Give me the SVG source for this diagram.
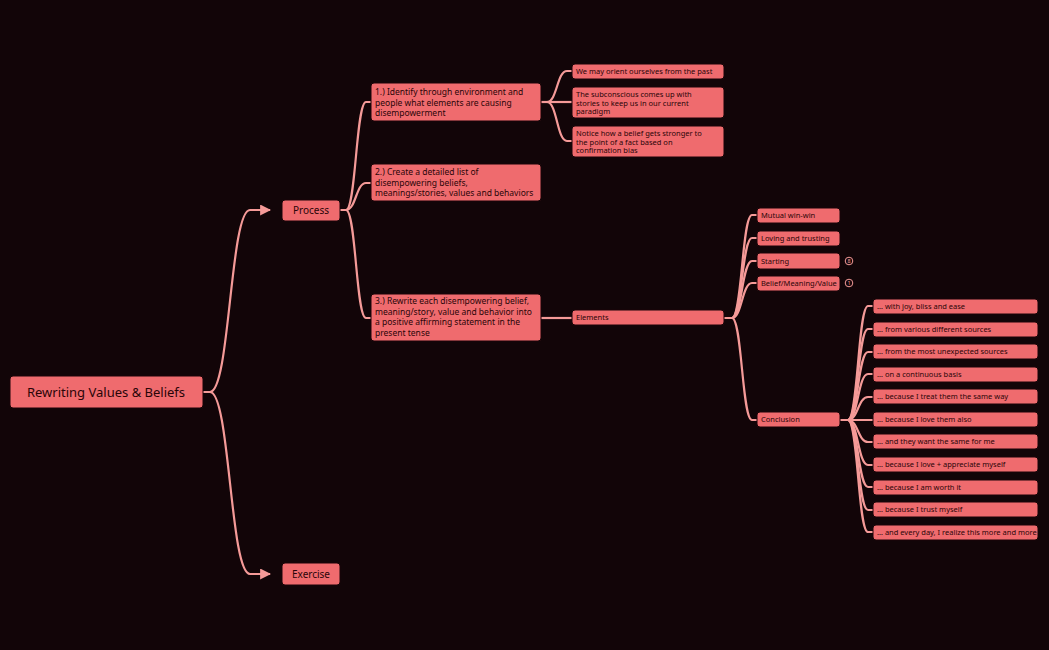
<svg xmlns="http://www.w3.org/2000/svg" width="1049" height="650" viewBox="0 0 1049 650">
<style>
.b{fill:#ef6b6e;stroke:#1a0508;stroke-width:1}
.t{font-family:"Noto Sans","Liberation Sans",sans-serif;fill:#2a0508}
.s{font-size:7.5px}.m{font-size:8.5px}.l{font-size:10px}
.c{fill:none;stroke:#f59a98;stroke-width:2.2}
</style>
<defs><marker id="a" viewBox="0 0 10 10" refX="9" refY="5" markerWidth="5" markerHeight="5" orient="auto"><path d="M0,0L10,5L0,10z" fill="#f59a98"/></marker></defs>
<rect width="1049" height="650" fill="#120508"/>
<g id="connectors">
<path class="c" d="M203,392 H210 C230,392 230,210 250,210 H270" marker-end="url(#a)"/>
<path class="c" d="M203,392 H210 C230,392 230,574 250,574 H270" marker-end="url(#a)"/>
<path class="c" d="M340,210 H346 C356,210 356,102 366,102 H371"/>
<path class="c" d="M340,210 H346 C356,210 356,183 366,183 H371"/>
<path class="c" d="M340,210 H346 C356,210 356,318 366,318 H371"/>
<path class="c" d="M541,102 H547 C557,102 557,71 567,71 H572"/>
<path class="c" d="M541,102 H547 C557,102 557,102 567,102 H572"/>
<path class="c" d="M541,102 H547 C557,102 557,141 567,141 H572"/>
<path class="c" d="M541,318 H572"/>
<path class="c" d="M724,318 H732 C742,318 742,215 752,215 H757"/>
<path class="c" d="M724,318 H732 C742,318 742,238 752,238 H757"/>
<path class="c" d="M724,318 H732 C742,318 742,261 752,261 H757"/>
<path class="c" d="M724,318 H732 C742,318 742,283 752,283 H757"/>
<path class="c" d="M724,318 H732 C742,318 742,420 752,420 H757"/>
<path class="c" d="M840,420 H848 C858,420 858,306 868,306 H873"/>
<path class="c" d="M840,420 H848 C858,420 858,329 868,329 H873"/>
<path class="c" d="M840,420 H848 C858,420 858,352 868,352 H873"/>
<path class="c" d="M840,420 H848 C858,420 858,374 868,374 H873"/>
<path class="c" d="M840,420 H848 C858,420 858,397 868,397 H873"/>
<path class="c" d="M840,420 H873"/>
<path class="c" d="M840,420 H848 C858,420 858,442 868,442 H873"/>
<path class="c" d="M840,420 H848 C858,420 858,465 868,465 H873"/>
<path class="c" d="M840,420 H848 C858,420 858,487 868,487 H873"/>
<path class="c" d="M840,420 H848 C858,420 858,510 868,510 H873"/>
<path class="c" d="M840,420 H848 C858,420 858,532 868,532 H873"/>
</g>
<g id="root"><rect class="b" x="10" y="376" width="193" height="32" rx="3"/><text class="t" x="106" y="397" font-size="13" text-anchor="middle">Rewriting Values &amp; Beliefs</text></g>
<g id="process"><rect class="b" x="282" y="200" width="58" height="21" rx="3"/><text class="t l" x="311" y="214" text-anchor="middle">Process</text></g>
<g id="exercise"><rect class="b" x="282" y="563" width="58" height="22" rx="3"/><text class="t l" x="311" y="578" text-anchor="middle">Exercise</text></g>
<g id="p1"><rect class="b" x="371" y="83" width="170" height="38" rx="3"/><text class="t m" x="375" y="95">1.) Identify through environment and<tspan x="375" dy="10.5">people what elements are causing</tspan><tspan x="375" dy="10.5">disempowerment</tspan></text></g>
<g id="p2"><rect class="b" x="371" y="164" width="170" height="37" rx="3"/><text class="t m" x="375" y="175">2.) Create a detailed list of<tspan x="375" dy="10.5">disempowering beliefs,</tspan><tspan x="375" dy="10.5">meanings/stories, values and behaviors</tspan></text></g>
<g id="p3"><rect class="b" x="371" y="294" width="170" height="47" rx="3"/><text class="t m" x="375" y="304">3.) Rewrite each disempowering belief,<tspan x="375" dy="10.5">meaning/story, value and behavior into</tspan><tspan x="375" dy="10.5">a positive affirming statement in the</tspan><tspan x="375" dy="10.5">present tense</tspan></text></g>
<g id="i1"><rect class="b" x="572" y="64" width="152" height="15" rx="3"/><text class="t s" x="576" y="74">We may orient ourselves from the past</text></g>
<g id="i2"><rect class="b" x="572" y="87" width="152" height="31" rx="3"/><text class="t s" x="576" y="97">The subconscious comes up with<tspan x="576" dy="8.5">stories to keep us in our current</tspan><tspan x="576" dy="8.5">paradigm</tspan></text></g>
<g id="i3"><rect class="b" x="572" y="126" width="152" height="31" rx="3"/><text class="t s" x="576" y="136">Notice how a belief gets stronger to<tspan x="576" dy="8.5">the point of a fact based on</tspan><tspan x="576" dy="8.5">confirmation bias</tspan></text></g>
<g id="elements"><rect class="b" x="572" y="310" width="152" height="15" rx="3"/><text class="t s" x="576" y="320">Elements</text></g>
<g id="e1"><rect class="b" x="757" y="208" width="83" height="15" rx="3"/><text class="t s" x="761" y="218">Mutual win-win</text></g>
<g id="e2"><rect class="b" x="757" y="231" width="83" height="15" rx="3"/><text class="t s" x="761" y="241">Loving and trusting</text></g>
<g id="e3"><rect class="b" x="757" y="253" width="83" height="16" rx="3"/><text class="t s" x="761" y="264">Starting</text><circle cx="849" cy="261" r="3.8" fill="none" stroke="#f59a98"/><text class="t" x="849" y="263.3" font-size="5.5" fill="#f59a98" style="fill:#f59a98" text-anchor="middle">8</text></g>
<g id="e4"><rect class="b" x="757" y="276" width="83" height="15" rx="3"/><text class="t s" x="761" y="286">Belief/Meaning/Value</text><circle cx="849" cy="283" r="3.8" fill="none" stroke="#f59a98"/><text class="t" x="849" y="285.3" font-size="5.5" style="fill:#f59a98" text-anchor="middle">1</text></g>
<g id="conclusion"><rect class="b" x="757" y="412" width="83" height="15" rx="3"/><text class="t s" x="761" y="422">Conclusion</text></g>
<g id="c1"><rect class="b" x="873" y="299" width="165" height="15" rx="3"/><text class="t s" x="877" y="309">… with joy, bliss and ease</text></g>
<g id="c2"><rect class="b" x="873" y="322" width="165" height="15" rx="3"/><text class="t s" x="877" y="332">… from various different sources</text></g>
<g id="c3"><rect class="b" x="873" y="344" width="165" height="15" rx="3"/><text class="t s" x="877" y="354">… from the most unexpected sources</text></g>
<g id="c4"><rect class="b" x="873" y="367" width="165" height="15" rx="3"/><text class="t s" x="877" y="377">… on a continuous basis</text></g>
<g id="c5"><rect class="b" x="873" y="389" width="165" height="15" rx="3"/><text class="t s" x="877" y="399">… because I treat them the same way</text></g>
<g id="c6"><rect class="b" x="873" y="412" width="165" height="15" rx="3"/><text class="t s" x="877" y="422">… because I love them also</text></g>
<g id="c7"><rect class="b" x="873" y="434" width="165" height="15" rx="3"/><text class="t s" x="877" y="444">… and they want the same for me</text></g>
<g id="c8"><rect class="b" x="873" y="457" width="165" height="15" rx="3"/><text class="t s" x="877" y="467">… because I love + appreciate myself</text></g>
<g id="c9"><rect class="b" x="873" y="480" width="165" height="15" rx="3"/><text class="t s" x="877" y="490">… because I am worth it</text></g>
<g id="c10"><rect class="b" x="873" y="502" width="165" height="15" rx="3"/><text class="t s" x="877" y="512">… because I trust myself</text></g>
<g id="c11"><rect class="b" x="873" y="525" width="165" height="15" rx="3"/><text class="t s" x="877" y="535">… and every day, I realize this more and more</text></g>
</svg>
